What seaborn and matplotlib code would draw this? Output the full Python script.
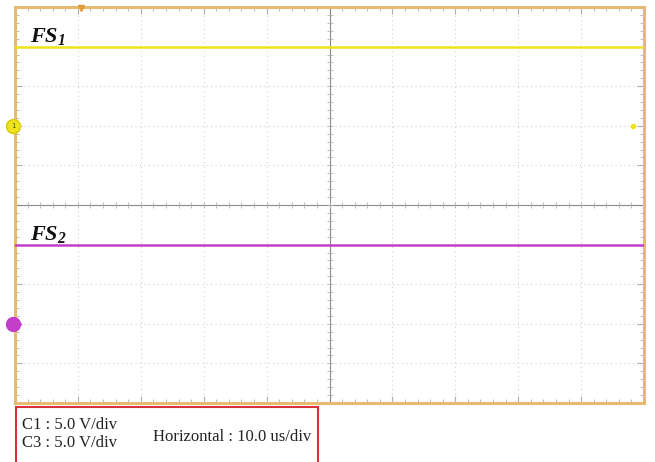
import numpy as np
import pandas as pd
import matplotlib
matplotlib.use("Agg")
import matplotlib.pyplot as plt
import seaborn as sns
from matplotlib.patches import Rectangle
from matplotlib.ticker import MultipleLocator

# ---- data ----
time_us = [-50, -40, -30, -20, -10, 0, 10, 20, 30, 40, 50]
fs1_volts = [10.0, 10.0, 10.0, 10.0, 10.0, 10.0, 10.0, 10.0, 10.0, 10.0, 10.0]
fs2_volts = [10.0, 10.0, 10.0, 10.0, 10.0, 10.0, 10.0, 10.0, 10.0, 10.0, 10.0]
channel_names = ["FS1", "FS2"]
channel_offsets_div = [2.0, -3.0]      # ground marker positions
volts_per_div = [5.0, 5.0]
us_per_div = 10.0
info_lines = ["C1 : 5.0 V/div", "C3 : 5.0 V/div"]
info_horizontal = "Horizontal : 10.0 us/div"

sns.set_theme(style="white")
plt.rcParams["mathtext.fontset"] = "custom"
plt.rcParams["mathtext.it"] = "Liberation Serif:italic:bold"
plt.rcParams["mathtext.rm"] = "Liberation Serif:italic:bold"
plt.rcParams["mathtext.bf"] = "Liberation Serif:italic:bold"

rows = []
for name, vals, off, vpd in zip(channel_names, [fs1_volts, fs2_volts], channel_offsets_div, volts_per_div):
    for t, v in zip(time_us, vals):
        rows.append({"channel": name, "x": t / us_per_div, "y": v / vpd + off})
df = pd.DataFrame(rows)

W, H = 655, 462
fig = plt.figure(figsize=(W / 100, H / 100), dpi=100)
L, R, T, B = 15, 644, 7, 403
ax = fig.add_axes([L / W, (H - B) / H, (R - L) / W, (B - T) / H])

frame_col = "#E6BA70"
grid_col = "#D2D2D2"
tick_col = "#B0B0B0"
yellow = "#EEE41C"
purple = "#C23EC9"

ax.set_xlim(-5, 5)
ax.set_ylim(-5, 5)

# dotted grid
for k in [-4, -3, -2, -1, 1, 2, 3, 4]:
    ax.axvline(k, color=grid_col, lw=0.8, ls=(0, (1, 3)), zorder=0)
    ax.axhline(k, color=grid_col, lw=0.8, ls=(0, (1, 3)), zorder=0)
# center cross lines with minor ticks
ax.axhline(0, color="#8a8a8a", lw=0.8, zorder=1)
ax.axvline(0, color="#8a8a8a", lw=0.8, zorder=1)
sub = np.arange(-5, 5.01, 0.2)
ax.plot(sub, np.zeros_like(sub), ls="none", marker="|", ms=4, mew=0.6, color=tick_col, zorder=1)
ax.plot(np.zeros_like(sub), sub, ls="none", marker="_", ms=4, mew=0.6, color=tick_col, zorder=1)

sns.lineplot(data=df, x="x", y="y", hue="channel", palette=[yellow, purple],
             legend=False, lw=1.8, ax=ax, zorder=3)

ax.set_xlabel("")
ax.set_ylabel("")
ax.xaxis.set_major_locator(MultipleLocator(1))
ax.yaxis.set_major_locator(MultipleLocator(1))
ax.xaxis.set_minor_locator(MultipleLocator(0.2))
ax.yaxis.set_minor_locator(MultipleLocator(0.2))
ax.tick_params(which="both", direction="in", top=True, right=True, bottom=True, left=True,
               labelbottom=False, labelleft=False, color=tick_col)
ax.tick_params(which="major", length=5, width=0.8)
ax.tick_params(which="minor", length=3, width=0.6)
for s in ax.spines.values():
    s.set_color(frame_col)
    s.set_linewidth(2.2)

# labels
ax.text(-4.76, 4.12, r"$FS_1$", fontsize=16, color="#111111", ha="left", va="baseline", zorder=5)
ax.text(-4.76, -0.88, r"$FS_2$", fontsize=16, color="#111111", ha="left", va="baseline", zorder=5)

# channel ground markers
ax.plot([-5.03], [channel_offsets_div[0]], marker="o", ms=10, color=yellow, mec="#d8c800",
        clip_on=False, zorder=6)
ax.text(-5.03, channel_offsets_div[0], "1", fontsize=5, ha="center", va="center", color="#555500",
        zorder=7, clip_on=False)
ax.plot([-4.95], [channel_offsets_div[0]], marker=">", ms=3, color=yellow, clip_on=False, zorder=6)
ax.plot([-5.03], [channel_offsets_div[1]], marker="o", ms=10, color=purple, mec=purple,
        clip_on=False, zorder=6)
ax.plot([-4.93], [channel_offsets_div[1]], marker=">", ms=3, color=purple, clip_on=False, zorder=6)
ax.plot([4.82], [channel_offsets_div[0]], marker="o", ms=3, color=yellow, clip_on=False, zorder=6)
# trigger marker
ax.plot([-3.95], [4.97], marker="v", ms=5, color="#E39A3A", clip_on=False, zorder=6)

# info box
fig.patches.append(Rectangle((16 / W, -0.05), (318 - 16) / W, (H - 407) / H + 0.05,
                             transform=fig.transFigure, fill=False, edgecolor="#D8333A",
                             lw=1.5, clip_on=False))
fs_info = 12
fig.text(22 / W, 1 - 425 / H, info_lines[0], fontsize=fs_info, family="Liberation Serif",
         va="center", ha="left", color="#222222")
fig.text(22 / W, 1 - 443 / H, info_lines[1], fontsize=fs_info, family="Liberation Serif",
         va="center", ha="left", color="#222222")
fig.text(153 / W, 1 - 437 / H, info_horizontal, fontsize=fs_info, family="Liberation Serif",
         va="center", ha="left", color="#222222")

fig.savefig("out.png", dpi=100)
